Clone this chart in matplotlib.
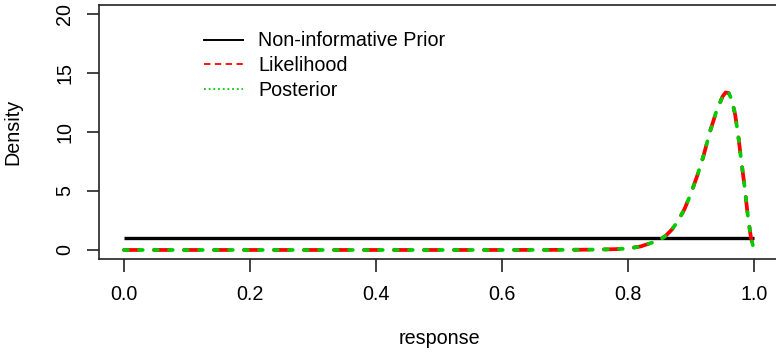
import matplotlib
matplotlib.use("Agg")
import matplotlib.pyplot as plt
from matplotlib.lines import Line2D

plt.rcParams['font.family'] = ['Liberation Sans', 'DejaVu Sans']
plt.rcParams['font.size'] = 14.2

# values
prior_x = [0.0, 1.0]
prior_y = [1.0, 1.0]

resp = [0.00, 0.10, 0.20, 0.30, 0.40, 0.50, 0.60, 0.70, 0.75, 0.78,
        0.80, 0.82, 0.84, 0.85, 0.86, 0.87, 0.88, 0.89, 0.90, 0.91,
        0.92, 0.93, 0.94, 0.95, 0.955, 0.96, 0.965, 0.97, 0.975, 0.98,
        0.985, 0.99, 0.995, 1.00]
likelihood = [0, 0, 0, 0, 0, 0, 0, 0.01, 0.03, 0.07,
              0.12, 0.3, 0.65, 0.85, 1.2, 1.75, 2.5, 3.5, 4.8, 6.3,
              8.0, 10.0, 11.7, 13.0, 13.35, 13.3, 12.7, 11.5, 9.7, 7.5,
              5.4, 3.0, 1.1, 0.0]
posterior = list(likelihood)  # flat prior -> same curve

xticks = [0.0, 0.2, 0.4, 0.6, 0.8, 1.0]
yticks = [0, 5, 10, 15, 20]

fig = plt.figure(figsize=(7.76, 3.55), dpi=100)
ax = fig.add_axes([0.1273, 0.2693, 0.8768, 0.7177])

ax.plot(prior_x, prior_y, color='black', lw=2.4, solid_capstyle='butt')
ax.plot(resp, likelihood, color='#ff0000', lw=2.7, dashes=(4, 4),
        dash_capstyle='round')
ax.plot(resp, posterior, color='#00cd00', lw=2.7, dashes=(1, 3),
        dash_capstyle='round')

ax.set_xlim(-0.04, 1.04)
ax.set_ylim(-0.8, 20.8)
ax.set_xticks(xticks)
ax.set_xticklabels(['%.1f' % v for v in xticks])
ax.set_yticks(yticks)
ax.set_yticklabels([str(v) for v in yticks], rotation=90, va='center')

for s in ax.spines.values():
    s.set_linewidth(1.2)
    s.set_color('#222222')
ax.tick_params(axis='both', direction='out', length=9, width=1.2,
               color='#222222')
ax.tick_params(axis='x', pad=9.4)
ax.tick_params(axis='y', pad=8.6)

ax.set_xlabel('response')
ax.xaxis.set_label_coords(0.5, -0.275)
ax.set_ylabel('Density')
ax.yaxis.set_label_coords(-0.112, 0.5)

handles = [
    Line2D([], [], color='black', lw=1.4),
    Line2D([], [], color='#ff0000', lw=1.3, dashes=(3.5, 2.5)),
    Line2D([], [], color='#00cd00', lw=1.3, dashes=(1, 1.6)),
]
labels = ['Non-informative Prior', 'Likelihood', 'Posterior']
fig.legend(handles, labels, loc='upper left',
           bbox_to_anchor=(204 / 776, 1 - 31.5 / 355), frameon=False,
           borderpad=0, borderaxespad=0, handlelength=2.0,
           handletextpad=0.75, labelspacing=0.29)

fig.savefig('out.png', dpi=100)
